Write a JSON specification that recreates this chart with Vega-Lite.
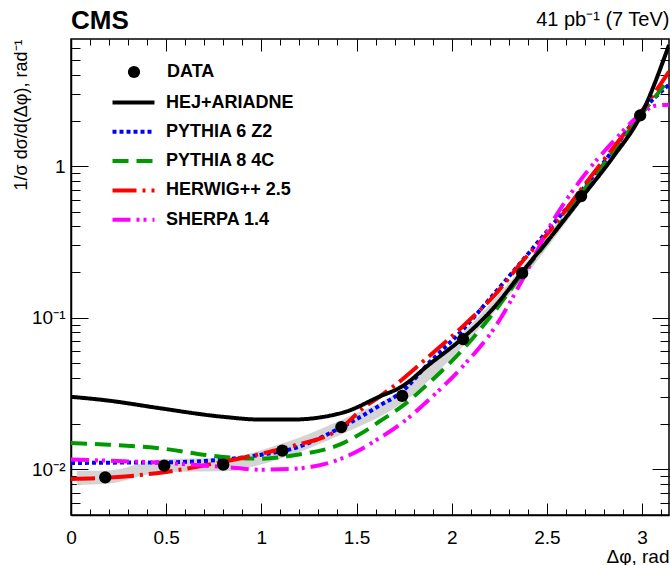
{
  "$schema": "https://vega.github.io/schema/vega-lite/v6.json",
  "width": 598,
  "height": 476,
  "autosize": {"type": "none"},
  "padding": {"left": 71, "top": 39, "right": 1, "bottom": 50},
  "background": "white",
  "title": {
    "text": "CMS", "anchor": "start", "frame": "group", "orient": "top",
    "baseline": "alphabetic", "offset": -46, "fontSize": 26, "fontWeight": "bold",
    "font": "Liberation Sans", "color": "black"
  },
  "datasets": {
    "points": [
      {"x": 0.18, "y": 0.00886},
      {"x": 0.49, "y": 0.01058},
      {"x": 0.80, "y": 0.01074},
      {"x": 1.11, "y": 0.01328},
      {"x": 1.42, "y": 0.0190},
      {"x": 1.74, "y": 0.0305},
      {"x": 2.06, "y": 0.0722},
      {"x": 2.37, "y": 0.197},
      {"x": 2.68, "y": 0.635},
      {"x": 2.99, "y": 2.16}
    ],
    "band": [
      {"x": 0.03, "lo": 0.0079, "hi": 0.0098},
      {"x": 0.18, "lo": 0.0080, "hi": 0.0098},
      {"x": 0.49, "lo": 0.0096, "hi": 0.0117},
      {"x": 0.80, "lo": 0.0097, "hi": 0.0119},
      {"x": 1.11, "lo": 0.0119, "hi": 0.0148},
      {"x": 1.42, "lo": 0.0170, "hi": 0.0212},
      {"x": 1.74, "lo": 0.0274, "hi": 0.0338},
      {"x": 2.06, "lo": 0.0652, "hi": 0.0800},
      {"x": 2.37, "lo": 0.178, "hi": 0.215},
      {"x": 2.68, "lo": 0.58, "hi": 0.69},
      {"x": 2.99, "lo": 1.97, "hi": 2.36}
    ],
    "curves": [
      {"model": "PYTHIA 6  Z2", "x": 0, "y": 0.0110},
      {"model": "PYTHIA 6  Z2", "x": 0.199, "y": 0.01107},
      {"model": "PYTHIA 6  Z2", "x": 0.45, "y": 0.0111},
      {"model": "PYTHIA 6  Z2", "x": 0.801, "y": 0.0116},
      {"model": "PYTHIA 6  Z2", "x": 1.0, "y": 0.0125},
      {"model": "PYTHIA 6  Z2", "x": 1.157, "y": 0.0136},
      {"model": "PYTHIA 6  Z2", "x": 1.429, "y": 0.0192},
      {"model": "PYTHIA 6  Z2", "x": 1.618, "y": 0.0262},
      {"model": "PYTHIA 6  Z2", "x": 1.738, "y": 0.0325},
      {"model": "PYTHIA 6  Z2", "x": 1.88, "y": 0.0503},
      {"model": "PYTHIA 6  Z2", "x": 2.058, "y": 0.0834},
      {"model": "PYTHIA 6  Z2", "x": 2.21, "y": 0.138},
      {"model": "PYTHIA 6  Z2", "x": 2.366, "y": 0.234},
      {"model": "PYTHIA 6  Z2", "x": 2.529, "y": 0.41},
      {"model": "PYTHIA 6  Z2", "x": 2.686, "y": 0.698},
      {"model": "PYTHIA 6  Z2", "x": 2.848, "y": 1.28},
      {"model": "PYTHIA 6  Z2", "x": 2.995, "y": 2.28},
      {"model": "PYTHIA 6  Z2", "x": 3.1416, "y": 3.45},
      {"model": "PYTHIA 8  4C", "x": 0, "y": 0.0149},
      {"model": "PYTHIA 8  4C", "x": 0.199, "y": 0.01455},
      {"model": "PYTHIA 8  4C", "x": 0.45, "y": 0.01384},
      {"model": "PYTHIA 8  4C", "x": 0.801, "y": 0.01207},
      {"model": "PYTHIA 8  4C", "x": 1.0, "y": 0.01177},
      {"model": "PYTHIA 8  4C", "x": 1.157, "y": 0.01231},
      {"model": "PYTHIA 8  4C", "x": 1.429, "y": 0.0149},
      {"model": "PYTHIA 8  4C", "x": 1.529, "y": 0.0174},
      {"model": "PYTHIA 8  4C", "x": 1.618, "y": 0.0206},
      {"model": "PYTHIA 8  4C", "x": 1.738, "y": 0.0260},
      {"model": "PYTHIA 8  4C", "x": 1.88, "y": 0.0371},
      {"model": "PYTHIA 8  4C", "x": 2.058, "y": 0.0617},
      {"model": "PYTHIA 8  4C", "x": 2.23, "y": 0.112},
      {"model": "PYTHIA 8  4C", "x": 2.366, "y": 0.192},
      {"model": "PYTHIA 8  4C", "x": 2.529, "y": 0.352},
      {"model": "PYTHIA 8  4C", "x": 2.686, "y": 0.676},
      {"model": "PYTHIA 8  4C", "x": 2.848, "y": 1.24},
      {"model": "PYTHIA 8  4C", "x": 2.995, "y": 2.18},
      {"model": "PYTHIA 8  4C", "x": 3.1416, "y": 3.75},
      {"model": "HERWIG++ 2.5", "x": 0, "y": 0.00864},
      {"model": "HERWIG++ 2.5", "x": 0.199, "y": 0.00882},
      {"model": "HERWIG++ 2.5", "x": 0.45, "y": 0.00944},
      {"model": "HERWIG++ 2.5", "x": 0.801, "y": 0.01124},
      {"model": "HERWIG++ 2.5", "x": 1.0, "y": 0.01268},
      {"model": "HERWIG++ 2.5", "x": 1.157, "y": 0.01419},
      {"model": "HERWIG++ 2.5", "x": 1.429, "y": 0.0192},
      {"model": "HERWIG++ 2.5", "x": 1.529, "y": 0.025},
      {"model": "HERWIG++ 2.5", "x": 1.618, "y": 0.030},
      {"model": "HERWIG++ 2.5", "x": 1.738, "y": 0.0390},
      {"model": "HERWIG++ 2.5", "x": 1.88, "y": 0.0556},
      {"model": "HERWIG++ 2.5", "x": 2.058, "y": 0.0877},
      {"model": "HERWIG++ 2.5", "x": 2.23, "y": 0.143},
      {"model": "HERWIG++ 2.5", "x": 2.366, "y": 0.231},
      {"model": "HERWIG++ 2.5", "x": 2.529, "y": 0.393},
      {"model": "HERWIG++ 2.5", "x": 2.686, "y": 0.721},
      {"model": "HERWIG++ 2.5", "x": 2.848, "y": 1.32},
      {"model": "HERWIG++ 2.5", "x": 2.995, "y": 2.28},
      {"model": "HERWIG++ 2.5", "x": 3.1416, "y": 4.2},
      {"model": "SHERPA 1.4", "x": 0, "y": 0.0116},
      {"model": "SHERPA 1.4", "x": 0.199, "y": 0.0114},
      {"model": "SHERPA 1.4", "x": 0.45, "y": 0.0111},
      {"model": "SHERPA 1.4", "x": 0.801, "y": 0.01037},
      {"model": "SHERPA 1.4", "x": 1.0, "y": 0.00995},
      {"model": "SHERPA 1.4", "x": 1.157, "y": 0.01006},
      {"model": "SHERPA 1.4", "x": 1.429, "y": 0.01189},
      {"model": "SHERPA 1.4", "x": 1.529, "y": 0.0137},
      {"model": "SHERPA 1.4", "x": 1.618, "y": 0.0160},
      {"model": "SHERPA 1.4", "x": 1.738, "y": 0.0202},
      {"model": "SHERPA 1.4", "x": 1.88, "y": 0.0288},
      {"model": "SHERPA 1.4", "x": 2.058, "y": 0.0478},
      {"model": "SHERPA 1.4", "x": 2.23, "y": 0.0876},
      {"model": "SHERPA 1.4", "x": 2.366, "y": 0.173},
      {"model": "SHERPA 1.4", "x": 2.529, "y": 0.429},
      {"model": "SHERPA 1.4", "x": 2.686, "y": 0.838},
      {"model": "SHERPA 1.4", "x": 2.848, "y": 1.45},
      {"model": "SHERPA 1.4", "x": 2.995, "y": 2.21},
      {"model": "SHERPA 1.4", "x": 3.068, "y": 2.50},
      {"model": "SHERPA 1.4", "x": 3.1416, "y": 2.54},
      {"model": "HEJ+ARIADNE", "x": 0, "y": 0.0301},
      {"model": "HEJ+ARIADNE", "x": 0.199, "y": 0.0284},
      {"model": "HEJ+ARIADNE", "x": 0.45, "y": 0.0255},
      {"model": "HEJ+ARIADNE", "x": 0.801, "y": 0.0222},
      {"model": "HEJ+ARIADNE", "x": 1.0, "y": 0.0213},
      {"model": "HEJ+ARIADNE", "x": 1.157, "y": 0.0213},
      {"model": "HEJ+ARIADNE", "x": 1.429, "y": 0.0237},
      {"model": "HEJ+ARIADNE", "x": 1.618, "y": 0.0301},
      {"model": "HEJ+ARIADNE", "x": 1.738, "y": 0.0352},
      {"model": "HEJ+ARIADNE", "x": 1.88, "y": 0.0490},
      {"model": "HEJ+ARIADNE", "x": 2.058, "y": 0.0735},
      {"model": "HEJ+ARIADNE", "x": 2.23, "y": 0.120},
      {"model": "HEJ+ARIADNE", "x": 2.366, "y": 0.197},
      {"model": "HEJ+ARIADNE", "x": 2.529, "y": 0.352},
      {"model": "HEJ+ARIADNE", "x": 2.686, "y": 0.629},
      {"model": "HEJ+ARIADNE", "x": 2.848, "y": 1.15},
      {"model": "HEJ+ARIADNE", "x": 2.995, "y": 2.18},
      {"model": "HEJ+ARIADNE", "x": 3.1416, "y": 6.3}
    ]
  },
  "resolve": {"axis": {"x": "independent", "y": "independent"}},
  "layer": [
    {
      "data": {"name": "band"},
      "mark": {"type": "area", "color": "#d4d4d4", "interpolate": "monotone", "clip": true},
      "encoding": {
        "x": {
          "field": "x", "type": "quantitative",
          "scale": {"domain": [0, 3.1416], "nice": false, "zero": false},
          "axis": {
            "orient": "bottom",
            "values": [0,0.1,0.2,0.3,0.4,0.5,0.6,0.7,0.8,0.9,1,1.1,1.2,1.3,1.4,1.5,1.6,1.7,1.8,1.9,2,2.1,2.2,2.3,2.4,2.5,2.6,2.7,2.8,2.9,3,3.1],
            "format": "~g",
            "labelExpr": "abs(datum.value*2 - round(datum.value*2)) < 0.0001 ? datum.label : ''",
            "tickSize": {"condition": {"test": "abs(datum.value*2 - round(datum.value*2)) < 0.0001", "value": -12}, "value": -6},
            "labelPadding": 25,
            "labelFontSize": 19,
            "labelOverlap": false,
            "labelFlush": false,
            "labelBound": false,
            "title": "Δφ, rad",
            "titleFontSize": 19,
            "titleFontWeight": "normal",
            "titleAnchor": "end",
            "titleAlign": "right",
            "titleBaseline": "middle",
            "titleX": 598,
            "titleY": 41
          }
        },
        "y": {
          "field": "lo", "type": "quantitative",
          "scale": {"type": "log", "domain": [0.005, 6.9], "nice": false},
          "axis": {
            "orient": "left",
            "values": [0.006,0.007,0.008,0.009,0.01,0.02,0.03,0.04,0.05,0.06,0.07,0.08,0.09,0.1,0.2,0.3,0.4,0.5,0.6,0.7,0.8,0.9,1,2,3,4,5,6],
            "labelExpr": "datum.value == 1 ? '1' : datum.value == 0.1 ? '10⁻¹' : datum.value == 0.01 ? '10⁻²' : ''",
            "tickSize": {"condition": {"test": "datum.value == 1 || datum.value == 0.1 || datum.value == 0.01", "value": -17}, "value": -9},
            "labelPadding": 23,
            "labelFontSize": 19,
            "labelOverlap": false,
            "labelBound": false,
            "labelFlush": false,
            "title": "1/σ dσ/d(Δφ), rad⁻¹",
            "titleFontSize": 18,
            "titleFontWeight": "normal",
            "titleAngle": 270,
            "titleAlign": "right",
            "titleBaseline": "middle",
            "titleX": -50,
            "titleY": 0
          }
        },
        "y2": {"field": "hi"}
      }
    },
    {
      "data": {"name": "curves"},
      "mark": {"type": "line", "strokeWidth": 4, "interpolate": "monotone", "clip": true},
      "encoding": {
        "x": {
          "field": "x", "type": "quantitative",
          "axis": {
            "orient": "top",
            "values": [0,0.1,0.2,0.3,0.4,0.5,0.6,0.7,0.8,0.9,1,1.1,1.2,1.3,1.4,1.5,1.6,1.7,1.8,1.9,2,2.1,2.2,2.3,2.4,2.5,2.6,2.7,2.8,2.9,3,3.1],
            "labels": false,
            "domain": false,
            "title": "41 pb⁻¹ (7 TeV)",
            "titleFontSize": 20,
            "titleFontWeight": "normal",
            "titleAnchor": "end",
            "titleAlign": "right",
            "titleBaseline": "alphabetic",
            "titleX": 598,
            "titleY": -14,
            "tickSize": {"condition": {"test": "abs(datum.value*2 - round(datum.value*2)) < 0.0001", "value": -12}, "value": -6}
          }
        },
        "y": {
          "field": "y", "type": "quantitative",
          "axis": {
            "orient": "right",
            "values": [0.006,0.007,0.008,0.009,0.01,0.02,0.03,0.04,0.05,0.06,0.07,0.08,0.09,0.1,0.2,0.3,0.4,0.5,0.6,0.7,0.8,0.9,1,2,3,4,5,6],
            "labels": false,
            "domain": false,
            "title": null,
            "tickSize": {"condition": {"test": "datum.value == 1 || datum.value == 0.1 || datum.value == 0.01", "value": -17}, "value": -9}
          }
        },
        "color": {
          "field": "model", "type": "nominal",
          "scale": {
            "domain": ["HEJ+ARIADNE", "PYTHIA 6  Z2", "PYTHIA 8  4C", "HERWIG++ 2.5", "SHERPA 1.4"],
            "range": ["#000000", "#0000ff", "#009a00", "#ff0000", "#ff00ff"]
          },
          "legend": {
            "orient": "none", "legendX": 52, "legendY": 53, "title": null,
            "symbolType": "M-2.5,0H2.5", "symbolSize": 282, "symbolStrokeWidth": 4,
            "labelFontSize": 18, "labelFontWeight": "bold", "labelOffset": 22,
            "rowPadding": 9.3, "padding": 0
          }
        },
        "strokeDash": {
          "field": "model", "type": "nominal",
          "scale": {
            "domain": ["HEJ+ARIADNE", "PYTHIA 6  Z2", "PYTHIA 8  4C", "HERWIG++ 2.5", "SHERPA 1.4"],
            "range": [[1, 0], [4, 3], [16, 8], [24, 6, 3, 6], [18, 6, 3, 4, 3, 6]]
          },
          "legend": {
            "orient": "none", "legendX": 52, "legendY": 53, "title": null,
            "symbolType": "M-2.5,0H2.5", "symbolSize": 282, "symbolStrokeWidth": 4,
            "labelFontSize": 18, "labelFontWeight": "bold", "labelOffset": 22,
            "rowPadding": 9.3, "padding": 0
          }
        }
      }
    },
    {
      "data": {"name": "points"},
      "mark": {"type": "point", "filled": true, "size": 150, "opacity": 1, "color": "black"},
      "encoding": {
        "x": {"field": "x", "type": "quantitative", "axis": null},
        "y": {"field": "y", "type": "quantitative", "axis": null},
        "shape": {
          "datum": "DATA",
          "scale": {"domain": ["DATA"], "range": ["circle"]},
          "legend": {
            "orient": "none", "legendX": 54, "legendY": 24, "title": null,
            "symbolSize": 150, "symbolFillColor": "black", "symbolStrokeColor": "black",
            "labelFontSize": 18, "labelFontWeight": "bold", "labelOffset": 24, "padding": 0
          }
        }
      }
    },
    {
      "mark": {"type": "text", "text": "Mueller-Navelet dijets", "fontSize": 18, "fontWeight": "bold", "align": "center", "baseline": "middle"},
      "encoding": {
        "x": {"datum": 0.754, "type": "quantitative", "axis": null},
        "y": {"datum": 0.165, "type": "quantitative", "axis": null}
      }
    },
    {
      "mark": {"type": "text", "text": "0 < Δy < 3", "fontSize": 18, "fontWeight": "bold", "align": "center", "baseline": "middle"},
      "encoding": {
        "x": {"datum": 0.754, "type": "quantitative", "axis": null},
        "y": {"datum": 0.1095, "type": "quantitative", "axis": null}
      }
    },
    {
      "mark": {"type": "text", "text": "P", "fontSize": 18, "fontWeight": "bold", "align": "left", "baseline": "middle"},
      "encoding": {
        "x": {"datum": 0.178, "type": "quantitative", "axis": null},
        "y": {"datum": 0.0664, "type": "quantitative", "axis": null}
      }
    },
    {
      "mark": {"type": "text", "text": "T", "fontSize": 12, "fontWeight": "bold", "align": "left", "baseline": "middle", "dx": 13, "dy": 6},
      "encoding": {
        "x": {"datum": 0.178, "type": "quantitative", "axis": null},
        "y": {"datum": 0.0664, "type": "quantitative", "axis": null}
      }
    },
    {
      "mark": {"type": "text", "text": " > 35 GeV, |y| < 4.7", "fontSize": 18, "fontWeight": "bold", "align": "left", "baseline": "middle", "dx": 22},
      "encoding": {
        "x": {"datum": 0.178, "type": "quantitative", "axis": null},
        "y": {"datum": 0.0664, "type": "quantitative", "axis": null}
      }
    }
  ],
  "config": {
    "view": {"stroke": "black", "strokeWidth": 1.5},
    "font": "Liberation Sans",
    "axis": {
      "grid": false,
      "domainColor": "black",
      "domainWidth": 1.5,
      "tickColor": "black",
      "tickWidth": 1,
      "labelColor": "black",
      "titleColor": "black",
      "labelFont": "Liberation Sans",
      "titleFont": "Liberation Sans"
    },
    "legend": {"labelFont": "Liberation Sans", "labelColor": "black"},
    "text": {"font": "Liberation Sans", "color": "black"}
  }
}
